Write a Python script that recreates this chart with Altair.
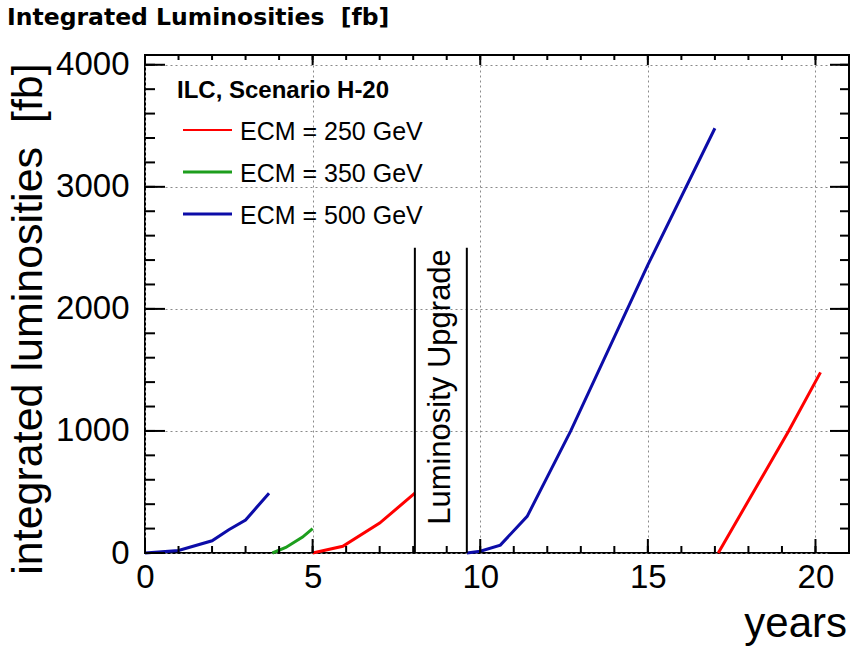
import altair as alt
import pandas as pd

# ---- data (years, integrated luminosity in fb^-1) ----
blue1_x = [0.0, 1.0, 2.0, 2.5, 3.0, 3.7]
blue1_y = [0, 20, 100, 190, 270, 490]
green_x = [3.8, 4.2, 4.7, 5.0]
green_y = [0, 45, 130, 200]
red1_x = [5.0, 5.9, 7.0, 8.05]
red1_y = [0, 55, 245, 490]
blue2_x = [9.6, 10.0, 10.6, 11.4, 12.7, 15.0, 17.0]
blue2_y = [0, 15, 65, 300, 1000, 2360, 3480]
red2_x = [17.1, 19.2, 20.15]
red2_y = [0, 1000, 1480]

series_names = ["ECM = 250 GeV", "ECM = 350 GeV", "ECM = 500 GeV"]
series_colors = ["#ff0000", "#1d9e1d", "#0c0ca8"]

x_major = [0, 5, 10, 15, 20]
x_minor = list(range(0, 21))
y_major = [0, 1000, 2000, 3000, 4000]
y_minor = list(range(0, 4001, 200))

upgrade_x = [8.05, 9.6]
upgrade_top = 2500
upgrade_label = "Luminosity Upgrade"
upgrade_label_y = 1360

NB = "\u00a0"
title_text = "Integrated Luminosities " + NB + "[fb]"
legend_title = "ILC, Scenario H-20"
y_title = "integrated luminosities " + NB + "[fb]"
x_title = "years"

# ---- build tables ----
rows = []
for seg, (xs_, ys_, name) in enumerate([
    (blue1_x, blue1_y, series_names[2]),
    (green_x, green_y, series_names[1]),
    (red1_x, red1_y, series_names[0]),
    (blue2_x, blue2_y, series_names[2]),
    (red2_x, red2_y, series_names[0]),
]):
    for xv, yv in zip(xs_, ys_):
        rows.append({"x": xv, "y": yv, "series": name, "seg": seg})
lines_df = pd.DataFrame(rows)

W, H = 704, 498
xs = alt.Scale(domain=[0, 21], nice=False, zero=False)
ys = alt.Scale(domain=[0, 4080], nice=False, zero=False)
FONT = "Liberation Sans"

xaxis = alt.Axis(
    values=x_major, title=None, ticks=False, domain=False, grid=True,
    gridDash=[2, 3], gridColor="#8a8a8a", gridWidth=1, labelFlush=False,
    labelFont=FONT, labelFontSize=33, labelColor="black", labelPadding=8,
    format="d")
yaxis = alt.Axis(
    values=y_major, title=None, ticks=False, domain=False, grid=True,
    gridDash=[2, 3], gridColor="#8a8a8a", gridWidth=1, labelFlush=False,
    labelFont=FONT, labelFontSize=33, labelColor="black", labelPadding=16,
    format="d")

lines = alt.Chart(lines_df).mark_line(strokeWidth=3).encode(
    x=alt.X("x:Q", scale=xs, axis=xaxis),
    y=alt.Y("y:Q", scale=ys, axis=yaxis),
    color=alt.Color("series:N", scale=alt.Scale(domain=series_names, range=series_colors), legend=None),
    detail="seg:N",
    order=alt.Order("x:Q"),
)

def xticks(vals, y0, y1):
    return alt.Chart(pd.DataFrame({"x": vals})).mark_rule(color="black", strokeWidth=2).encode(
        x=alt.X("x:Q", scale=xs, axis=xaxis), y=alt.value(y0), y2=alt.value(y1))

def yticks(vals, x0, x1):
    return alt.Chart(pd.DataFrame({"y": vals})).mark_rule(color="black", strokeWidth=2).encode(
        y=alt.Y("y:Q", scale=ys, axis=yaxis), x=alt.value(x0), x2=alt.value(x1))

ticks = [
    xticks(x_minor, H, H - 7), xticks(x_major, H, H - 14),
    xticks(x_minor, 0, 5), xticks(x_major, 0, 10),
    yticks(y_minor, 0, 10), yticks(y_major, 0, 20),
    yticks(y_minor, W, W - 9), yticks(y_major, W, W - 19),
]

box = alt.Chart(pd.DataFrame({"x": upgrade_x, "y": [0, 0], "y1": [upgrade_top, upgrade_top]})).mark_rule(
    color="black", strokeWidth=2).encode(
    x=alt.X("x:Q", scale=xs, axis=xaxis),
    y=alt.Y("y:Q", scale=ys, axis=yaxis), y2="y1:Q")

box_text = alt.Chart(pd.DataFrame({"x": [sum(upgrade_x) / 2], "y": [upgrade_label_y], "t": [upgrade_label]})).mark_text(
    angle=270, font=FONT, fontSize=31, align="center", baseline="middle", color="black").encode(
    x=alt.X("x:Q", scale=xs, axis=xaxis), y=alt.Y("y:Q", scale=ys, axis=yaxis), text="t:N")

one = pd.DataFrame({"a": [0]})

def label(text, x, y, size, font=FONT, weight="normal", align="left", angle=0, baseline="alphabetic"):
    return alt.Chart(one).mark_text(
        text=text, font=font, fontSize=size, fontWeight=weight, align=align,
        baseline=baseline, angle=angle, color="black").encode(x=alt.value(x), y=alt.value(y))

texts = [
    label(title_text, -138, -30, 23.5, font="DejaVu Sans", weight="bold"),
    label(legend_title, 32, 43, 24, weight="bold"),
    label(y_title, -103, 264, 43, align="center", angle=270),
    label(x_title, 702, 582, 42, align="right"),
]

legend_layers = []
for i, (name, col) in enumerate(zip(series_names, series_colors)):
    ly = 75 + 42 * i
    legend_layers.append(
        alt.Chart(one).mark_rule(color=col, strokeWidth=2 if i == 0 else 3).encode(
            x=alt.value(38), x2=alt.value(87), y=alt.value(ly)))
    legend_layers.append(label(name, 95, ly + 10, 25))

chart = alt.layer(lines, *ticks, box, box_text, *texts, *legend_layers).properties(
    width=W, height=H,
    padding={"left": 145, "top": 55, "right": 6, "bottom": 95},
    autosize=alt.AutoSizeParams(type="none"),
).configure_view(stroke="black", strokeWidth=2)

chart.save("out.html", embed_options={"renderer": "svg", "actions": False})
